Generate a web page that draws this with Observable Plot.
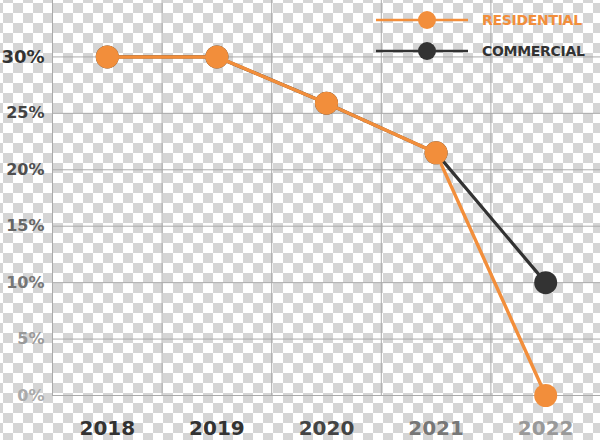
<!DOCTYPE html>
<html>
<head>
<meta charset="utf-8">
<script src="https://cdn.jsdelivr.net/npm/d3@7"></script>
<script src="https://cdn.jsdelivr.net/npm/@observablehq/plot@0.6"></script>
<style>
  html, body { margin: 0; padding: 0; }
  body {
    width: 600px; height: 440px; overflow: hidden;
    background-color: #fff;
    background-image: conic-gradient(#d5d5d5 25%, #ffffff 0 50%, #d5d5d5 0 75%, #ffffff 0);
    background-size: 20px 20px;
    background-position: 3px 3px;
    font-family: "DejaVu Sans", sans-serif;
  }
  #wrap { position: relative; width: 600px; height: 440px; }
  #chart svg { display: block; background: transparent; }
  .legend { position: absolute; left: 370px; top: 0; width: 230px; height: 70px; }
  .legend .item { position: absolute; left: 0; height: 20px; width: 230px; }
  .legend .lab { position: absolute; left: 112px; top: 1px; font-weight: bold; font-size: 14px; line-height: 18px; letter-spacing: -0.3px; }
</style>
</head>
<body>
<div id="wrap">
  <div id="chart"></div>
  <div class="legend" id="legend"></div>
</div>
<script>
// ---- data ----
const years = [2018, 2019, 2020, 2021, 2022];
const residential = [30, 30, 25.9, 21.5, 0];
const commercial = [30, 30, 25.9, 21.5, 10];
const yTicks = [0, 5, 10, 15, 20, 25, 30];
const seriesNames = ["RESIDENTIAL", "COMMERCIAL"];

// ---- styles ----
const ORANGE = "#f28e3b";
const DARK = "#333333";
const GRID = "#aaaaaa";
const yShade = {30: "#333", 25: "#444", 20: "#4f4f4f", 15: "#666", 10: "#777", 5: "#999", 0: "#aaa"};
const xShade = {2018: "#333", 2019: "#333", 2020: "#444", 2021: "#777", 2022: "#999"};

const resData = years.map((y, i) => ({year: y, value: residential[i]}));
const comData = years.map((y, i) => ({year: y, value: commercial[i]}));
const edges = years.map(y => y - 0.5).concat([years[years.length - 1] + 0.5]);
const xMin = edges[0], xMax = edges[edges.length - 1];

const chart = Plot.plot({
  width: 600,
  height: 440,
  marginLeft: 52,
  marginRight: 0,
  marginTop: 0,
  marginBottom: 45,
  style: {fontFamily: "DejaVu Sans, sans-serif", background: "transparent", overflow: "visible"},
  x: {type: "linear", domain: [xMin, xMax], label: null},
  y: {domain: [0, 35], label: null},
  color: {type: "identity"},
  marks: [
    Plot.ruleY(yTicks, {x1: xMin, x2: xMax, stroke: GRID, strokeWidth: 1}),
    Plot.ruleX(edges, {y1: 0, y2: 35, stroke: GRID, strokeWidth: 1}),
    Plot.line(comData, {x: "year", y: "value", stroke: DARK, strokeWidth: 3.2}),
    Plot.dot(comData, {x: "year", y: "value", r: 11.5, fill: DARK}),
    Plot.line(resData, {x: "year", y: "value", stroke: ORANGE, strokeWidth: 3.4}),
    Plot.dot(resData, {x: "year", y: "value", r: 11.5, fill: ORANGE}),
    Plot.axisY({
      ticks: yTicks,
      tickFormat: d => d + "%",
      tickSize: 0,
      tickPadding: 8,
      fontSize: d => d === 30 ? 18 : 16,
      fontWeight: "bold",
      fill: d => yShade[d],
      label: null
    }),
    Plot.axisX({
      ticks: years,
      tickFormat: d => String(d),
      tickSize: 0,
      tickPadding: 25,
      fontSize: 20,
      fontWeight: "bold",
      fill: d => xShade[d],
      label: null
    })
  ]
});
document.getElementById("chart").appendChild(chart);

// ---- legend ----
const legend = document.getElementById("legend");
const legendColors = [ORANGE, DARK];
const legendTops = [10, 41];
seriesNames.forEach((name, i) => {
  const item = document.createElement("div");
  item.className = "item";
  item.style.top = legendTops[i] + "px";
  item.innerHTML =
    `<svg width="110" height="20" style="position:absolute;left:0;top:0">
       <line x1="6" y1="10" x2="98" y2="10" stroke="${legendColors[i]}" stroke-width="2.5"/>
       <circle cx="57" cy="10" r="9" fill="${legendColors[i]}"/>
     </svg>
     <span class="lab" style="color:${legendColors[i]}">${name}</span>`;
  legend.appendChild(item);
});
</script>
</body>
</html>
